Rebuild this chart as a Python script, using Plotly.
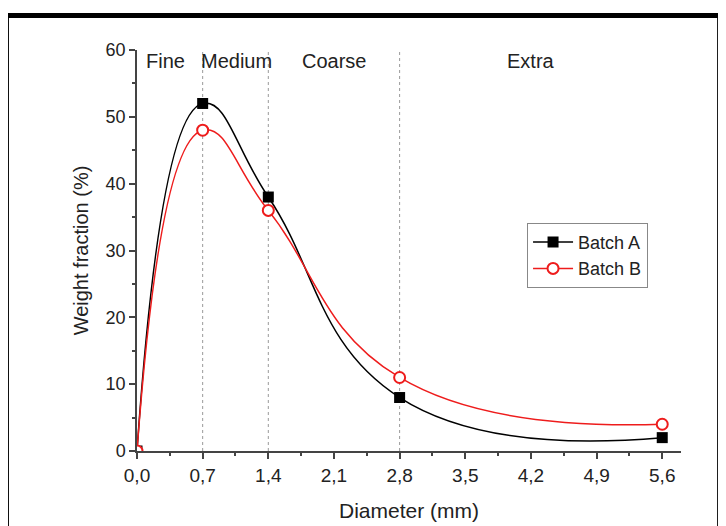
import plotly.graph_objects as go

diameter = [0.0, 0.7, 1.4, 2.8, 5.6]
batch_a = [0, 52, 38, 8, 2]
batch_b = [0, 48, 36, 11, 4]
x_tick_vals = [0.0, 0.7, 1.4, 2.1, 2.8, 3.5, 4.2, 4.9, 5.6]
x_tick_text = ["0,0", "0,7", "1,4", "2,1", "2,8", "3,5", "4,2", "4,9", "5,6"]
y_tick_vals = [0, 10, 20, 30, 40, 50, 60]
boundaries = [0.7, 1.4, 2.8]
region_names = ["Fine", "Medium", "Coarse", "Extra"]
region_x = [0.3, 1.06, 2.1, 4.2]

FONT = "Liberation Sans, Arial, sans-serif"
TXT = "#222222"

fig = go.Figure()
fig.add_trace(go.Scatter(
    x=diameter, y=batch_a, name="Batch A", mode="lines+markers",
    line=dict(color="black", width=1.5, shape="spline", smoothing=1.3),
    marker=dict(symbol="square", size=11, color="black"),
))
fig.add_trace(go.Scatter(
    x=diameter, y=batch_b, name="Batch B", mode="lines+markers",
    line=dict(color="#ee1c1c", width=1.5, shape="spline", smoothing=1.3),
    marker=dict(symbol="circle", size=11, color="white", line=dict(color="#ee1c1c", width=2)),
))

for b in boundaries:
    fig.add_shape(type="line", x0=b, x1=b, y0=0, y1=60, xref="x", yref="y",
                  line=dict(color="#999999", width=1, dash="dot"), layer="below")

for name, xx in zip(region_names, region_x):
    fig.add_annotation(x=xx, y=58.3, xref="x", yref="y", text=name, showarrow=False,
                       font=dict(family=FONT, size=20, color=TXT))

# outer frame
fig.add_shape(type="rect", xref="paper", yref="paper",
              x0=-0.24, x1=1.071, y0=-0.25, y1=1.086,
              line=dict(color="black", width=5), fillcolor="rgba(0,0,0,0)")

fig.update_layout(
    width=718, height=518,
    margin=dict(l=129, r=45, t=42, b=75, autoexpand=False),
    paper_bgcolor="white", plot_bgcolor="white",
    font=dict(family=FONT, color=TXT),
    showlegend=True,
    legend=dict(x=0.717, y=0.569, xanchor="left", yanchor="top",
                bordercolor="#888888", borderwidth=1, bgcolor="white",
                font=dict(family=FONT, size=18, color=TXT),
                tracegroupgap=0, itemwidth=40),
    xaxis=dict(range=[0, 5.8], tickvals=x_tick_vals, ticktext=x_tick_text, automargin=False,
               showgrid=False, zeroline=False, showline=True, linecolor="#444444", linewidth=1.5,
               ticks="outside", ticklen=6, tickwidth=1.5, tickcolor="#444444",
               minor=dict(ticks="outside", ticklen=3, tickwidth=1.5, tickcolor="#444444", dtick=0.35, tick0=0),
               tickfont=dict(family=FONT, size=19, color=TXT),
               title=dict(text="Diameter (mm)", font=dict(family=FONT, size=21, color=TXT), standoff=19)),
    yaxis=dict(range=[0, 60], tickvals=y_tick_vals, automargin=False,
               showgrid=False, zeroline=False, showline=True, linecolor="#444444", linewidth=1.5,
               ticks="outside", ticklen=6, tickwidth=1.5, tickcolor="#444444",
               minor=dict(ticks="outside", ticklen=3, tickwidth=1.5, tickcolor="#444444", dtick=5, tick0=0),
               tickfont=dict(family=FONT, size=18, color=TXT),
               title=dict(text="Weight fraction (%)", font=dict(family=FONT, size=20, color=TXT), standoff=12)),
)

fig.write_html("out.html")
